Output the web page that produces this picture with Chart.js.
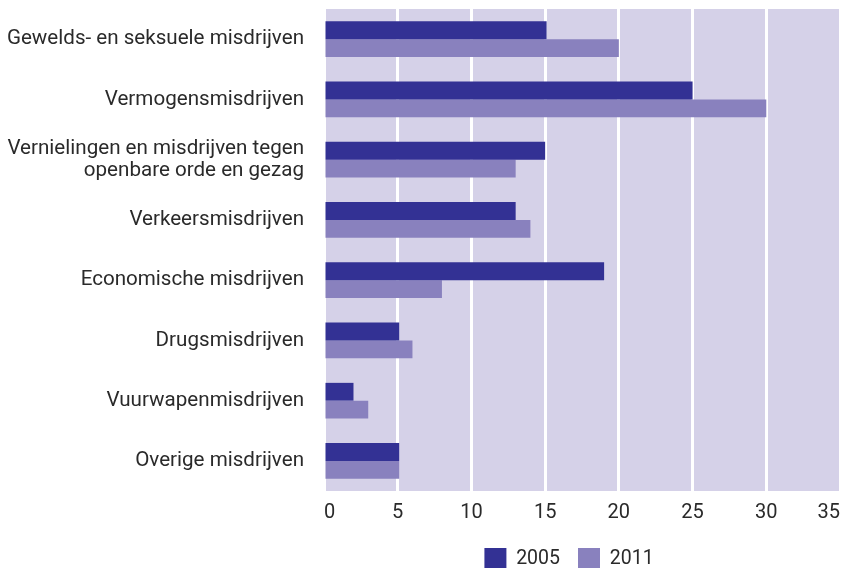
<!DOCTYPE html>
<html>
<head>
<meta charset="utf-8">
<script src="https://cdn.jsdelivr.net/npm/chart.js@4.4.1/dist/chart.umd.min.js"></script>
<style>
html,body{margin:0;padding:0;background:#fff;}
#wrap{width:841px;height:573px;position:relative;}
</style>
</head>
<body>
<div id="wrap"><canvas id="c" width="841" height="573"></canvas></div>
<script>
const categories = [
  "Gewelds- en seksuele misdrijven",
  "Vermogensmisdrijven",
  ["Vernielingen en misdrijven tegen", "openbare orde en gezag"],
  "Verkeersmisdrijven",
  "Economische misdrijven",
  "Drugsmisdrijven",
  "Vuurwapenmisdrijven",
  "Overige misdrijven"
];
const seriesNames = ["2005", "2011"];
const values2005 = [15.1, 25, 15, 13, 19, 5.1, 2, 5.1];
const values2011 = [20, 30, 13, 14, 8, 6, 3, 5.1];
const xTicks = [0, 5, 10, 15, 20, 25, 30, 35];

const bgPlugin = {
  id: 'areaBg',
  beforeDraw(chart) {
    const a = chart.chartArea, ctx = chart.ctx;
    ctx.save();
    ctx.fillStyle = '#d5d1e8';
    ctx.fillRect(a.left, a.top, a.right - a.left, a.bottom - a.top);
    ctx.restore();
  }
};
const legendTweak = {
  id: 'legendTweak',
  beforeLayout(chart) {
    const lg = chart.legend;
    if (lg && !lg._patched) {
      const orig = lg.fit;
      lg.fit = function () {
        orig.call(this);
        this.height = 38;
      };
      lg._patched = true;
    }
  },
  afterLayout(chart) {
    const lg = chart.legend;
    if (lg) { lg.left += 149; lg.right += 149; lg.top -= 5; lg.bottom -= 5; }
  }
};

Chart.defaults.font.family = "Roboto, 'Liberation Sans', sans-serif";
Chart.defaults.color = '#2a2a2a';

new Chart(document.getElementById('c'), {
  type: 'bar',
  data: {
    labels: categories,
    datasets: [
      { label: seriesNames[0], data: values2005, backgroundColor: '#333194', categoryPercentage: 0.59, barPercentage: 1 },
      { label: seriesNames[1], data: values2011, backgroundColor: '#8981be', categoryPercentage: 0.59, barPercentage: 1 }
    ]
  },
  options: {
    indexAxis: 'y',
    responsive: false,
    animation: false,
    layout: { padding: { top: 9, right: 1, left: 0, bottom: 0 } },
    plugins: {
      legend: {
        position: 'bottom',
        labels: { boxWidth: 22, boxHeight: 22, padding: 18, font: { size: 19.5 }, color: '#2a2a2a' }
      },
      tooltip: { enabled: false }
    },
    scales: {
      x: {
        min: 0, max: 35,
        afterBuildTicks(axis) { axis.ticks = xTicks.map(v => ({ value: v })); },
        afterFit(axis) { axis.paddingRight = 0; axis.paddingLeft = 0; },
        grid: { color: '#ffffff', lineWidth: 3, drawTicks: false, drawOnChartArea: true },
        border: { display: false },
        ticks: { align: 'inner', padding: 10, font: { size: 20 }, color: '#2a2a2a' }
      },
      y: {
        afterFit(axis) { axis.paddingTop = 0; axis.paddingBottom = 0; axis.width = 324; },
        grid: { display: false, drawTicks: false },
        border: { display: false },
        ticks: { padding: 20, font: { size: 20.6, lineHeight: 1.07 }, color: '#2a2a2a' }
      }
    }
  },
  plugins: [bgPlugin, legendTweak]
});
</script>
</body>
</html>
